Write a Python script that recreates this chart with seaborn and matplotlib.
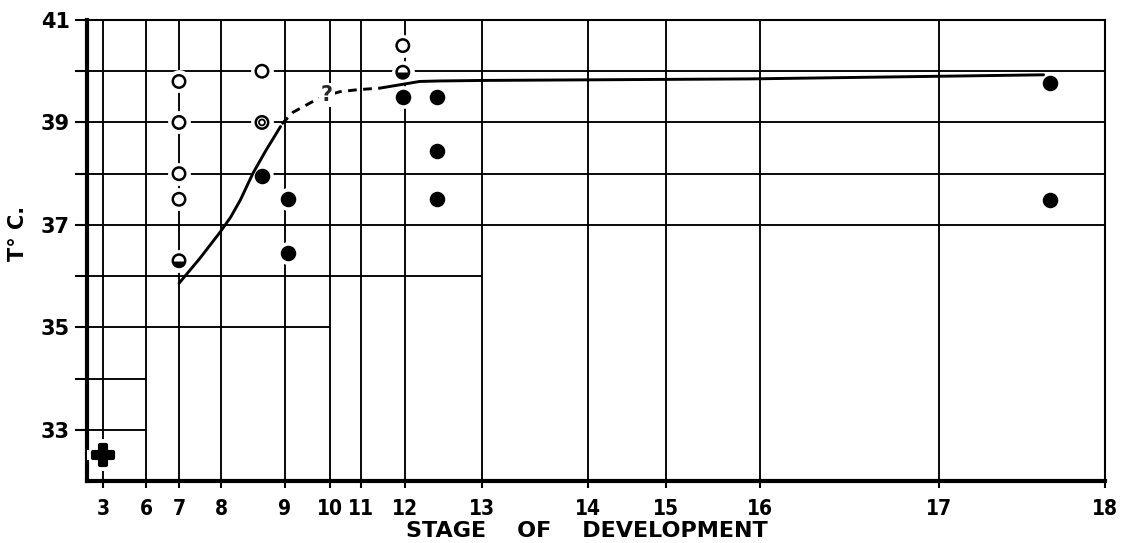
import numpy as np
import pandas as pd
import matplotlib
matplotlib.use("Agg")
import matplotlib.pyplot as plt
from matplotlib.markers import MarkerStyle
import seaborn as sns

# ---- stage axis: printed stages and their spacing along the axis ----
stage_ticks = [3, 6, 7, 8, 9, 10, 11, 12, 13, 14, 15, 16, 17, 18]
stage_axis_offset = [16, 59, 92, 134, 198, 243, 274, 318, 395, 501, 579, 673, 852, 1018]
temp_ticks = [33, 35, 37, 39, 41]
temp_minor = [34, 36, 38, 40]

# ---- observations ----
open_stage = [7, 7, 7, 7, 8.64, 11.95]
open_temp = [39.8, 39.0, 38.0, 37.5, 40.0, 40.5]

double_stage = [8.64]
double_temp = [39.0]

half_stage = [7, 11.95]
half_temp = [36.3, 39.98]

filled_stage = [8.64, 9.07, 9.07, 11.95, 12.42, 12.42, 12.42, 17.67, 17.67]
filled_temp = [37.95, 37.5, 36.45, 39.5, 39.5, 38.45, 37.5, 39.77, 37.48]

cross_stage = [3]
cross_temp = [32.5]

# ---- limiting temperature curve ----
lower_stage = [7.0, 7.5, 7.98, 8.15, 8.30, 8.50, 8.70, 8.93]
lower_temp = [35.86, 36.35, 36.86, 37.15, 37.48, 38.01, 38.45, 38.92]
uncertain_stage = [8.95, 9.18, 9.6, 9.93, 10.32, 10.9, 11.43]
uncertain_temp = [38.97, 39.2, 39.4, 39.53, 39.6, 39.64, 39.67]
upper_stage = [11.43, 12.19, 12.45, 13.0, 15.89, 17.63]
upper_temp = [39.67, 39.8, 39.81, 39.82, 39.85, 39.93]
question_stage, question_temp = 9.93, 39.53

# partial horizontal rules: (temperature, stage where the rule stops)
rules = [(33, 6), (34, 6), (35, 10), (36, 13), (37, 18), (38, 18), (39, 18), (40, 18)]

sns.set_theme(style="ticks")
plt.rcParams["font.family"] = ["DejaVu Sans"]
plt.rcParams["font.weight"] = "bold"

_s = np.asarray(stage_ticks, float)
_u = np.asarray(stage_axis_offset, float)
_k0 = (_u[1] - _u[0]) / (_s[1] - _s[0])
_k1 = (_u[-1] - _u[-2]) / (_s[-1] - _s[-2])


def stage_fwd(s):
    s = np.asarray(s, float)
    out = np.interp(s, _s, _u)
    out = np.where(s < _s[0], _u[0] + (s - _s[0]) * _k0, out)
    return np.where(s > _s[-1], _u[-1] + (s - _s[-1]) * _k1, out)


def stage_inv(u):
    u = np.asarray(u, float)
    out = np.interp(u, _u, _s)
    out = np.where(u < _u[0], _s[0] + (u - _u[0]) / _k0, out)
    return np.where(u > _u[-1], _s[-1] + (u - _u[-1]) / _k1, out)


fig = plt.figure(figsize=(11.22, 5.43), dpi=100)
ax = fig.add_axes([87 / 1122, 62 / 543, 1018 / 1122, 461 / 543])
ax.set_xscale("function", functions=(stage_fwd, stage_inv))
x_left = float(stage_inv(0.0))
ax.set_xlim(x_left, 18)
ax.set_ylim(32, 41)

ink = "black"
grid_lw = 1.35

# grid
ax.vlines(stage_ticks[:-1], 32, 41, color=ink, lw=grid_lw, zorder=1)
for t, s_end in rules:
    ax.hlines(t, x_left, s_end, color=ink, lw=grid_lw, zorder=1)

# white halos so the rules break around each symbol
halo = dict(color="white", s=270, linewidth=0, zorder=3, legend=False, ax=ax)
all_stage = open_stage + double_stage + half_stage + filled_stage
all_temp = open_temp + double_temp + half_temp + filled_temp
sns.scatterplot(x=all_stage, y=all_temp, marker="o", **halo)
sns.scatterplot(x=cross_stage, y=cross_temp, marker="P",
                color="white", s=520, linewidth=0, zorder=3, legend=False, ax=ax)

# limiting curve
line_kw = dict(color=ink, linewidth=2.1, sort=False, estimator=None, ax=ax, zorder=3.5)
sns.lineplot(x=lower_stage, y=lower_temp, solid_capstyle="round", **line_kw)
sns.lineplot(x=uncertain_stage, y=uncertain_temp, linestyle=(0, (3, 2.2)), **line_kw)
sns.lineplot(x=upper_stage, y=upper_temp, solid_capstyle="round", **line_kw)
ax.text(question_stage, question_temp, "?", ha="center", va="center", fontsize=15,
        fontweight="bold", zorder=5,
        bbox=dict(boxstyle="square,pad=0.1", fc="white", ec="none"))

# symbols
sns.scatterplot(x=filled_stage, y=filled_temp, marker="o", color=ink, s=125,
                linewidth=0, zorder=4, legend=False, ax=ax)
sns.scatterplot(x=half_stage, y=half_temp, marker=MarkerStyle("o", fillstyle="bottom"),
                color=ink, s=80, linewidth=0, zorder=4, legend=False, ax=ax)
sns.scatterplot(x=open_stage + double_stage + half_stage,
                y=open_temp + double_temp + half_temp, marker="o",
                facecolor="none", edgecolor=ink, s=80, linewidth=1.8,
                zorder=4.5, legend=False, ax=ax)
sns.scatterplot(x=double_stage, y=double_temp, marker="o", facecolor="none",
                edgecolor=ink, s=18, linewidth=1.3, zorder=4.5, legend=False, ax=ax)
sns.scatterplot(x=cross_stage, y=cross_temp, marker="P", color=ink, s=190,
                edgecolor=ink, linewidth=3.0, zorder=4, legend=False, ax=ax)

# axes frame
for side in ("left", "bottom"):
    ax.spines[side].set_linewidth(3.0)
for side in ("top", "right"):
    ax.spines[side].set_linewidth(1.5)
for sp in ax.spines.values():
    sp.set_color(ink)
    sp.set_visible(True)

ax.set_xticks(stage_ticks)
ax.set_xticklabels([str(s) for s in stage_ticks])
ax.xaxis.set_minor_locator(matplotlib.ticker.NullLocator())
ax.set_yticks(temp_ticks)
ax.set_yticklabels([str(t) for t in temp_ticks])
ax.set_yticks(temp_minor, minor=True)

ax.tick_params(axis="y", which="both", length=8.6, width=1.5, pad=3.6,
               labelsize=15, color=ink, labelcolor=ink, direction="out")
ax.tick_params(axis="x", which="major", length=5, width=1.5, pad=8,
               labelsize=15, color=ink, labelcolor=ink, direction="out")
for lab in ax.get_xticklabels():
    lab.set_fontstretch("condensed")
    lab.set_fontweight("bold")

ax.set_xlabel("STAGE    OF    DEVELOPMENT", fontsize=16, fontweight="bold", color=ink)
ax.xaxis.set_label_coords(0.491, -0.087)
ax.set_ylabel("T° C.", fontsize=15, fontweight="bold", color=ink)
ax.yaxis.set_label_coords(-0.058, 0.536)

fig.savefig("out.png", dpi=100, facecolor="white")
